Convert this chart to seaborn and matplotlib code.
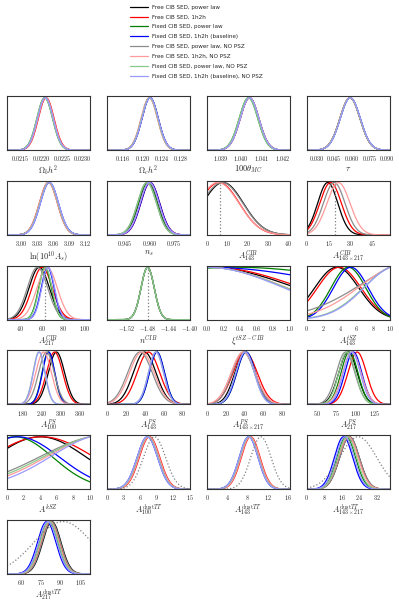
import numpy as np
import pandas as pd
import seaborn as sns
import matplotlib.pyplot as plt
from matplotlib.lines import Line2D

sns.set_style("white")
plt.rcParams['font.family'] = ['DejaVu Sans']
plt.rcParams['mathtext.fontset'] = 'cm'

# the 8 chains shown in every panel
series = ["Free CIB SED, power law", "Free CIB SED, 1h2h",
          "Fixed CIB SED, power law", "Fixed CIB SED, 1h2h (baseline)",
          "Free CIB SED, power law, NO PSZ", "Free CIB SED, 1h2h, NO PSZ",
          "Fixed CIB SED, power law, NO PSZ", "Fixed CIB SED, 1h2h (baseline), NO PSZ"]
colors = ["#000000", "#ff0000", "#008000", "#0000ff",
          "#8c8c8c", "#ff9a9a", "#88c888", "#9a9aff"]
nan = np.nan

# peak position / width of each marginal (series order above)
ombh2_mu = [0.02209, 0.02212, 0.02209, 0.02210, 0.02209, 0.02211, 0.02208, 0.02210]
ombh2_sd = [0.00019] * 8
omch2_mu = [0.1216, 0.1215, 0.1215, 0.1216, 0.1215, 0.1214, 0.1215, 0.1216]
omch2_sd = [0.0017] * 8
theta_mu = [1.0404, 1.0404, 1.04035, 1.0404, 1.0404, 1.0404, 1.04035, 1.0404]
theta_sd = [0.00045] * 8
tau_mu = [0.0584, 0.0584, 0.0585, 0.0587, 0.0584, 0.0584, 0.0585, 0.0587]
tau_sd = [0.0085] * 8
logA_mu = [3.051, 3.050, 3.051, 3.052, 3.051, 3.050, 3.051, 3.052]
logA_sd = [0.017] * 8
ns_mu = [0.9595, 0.9605, 0.9590, 0.9605, 0.9585, 0.9600, 0.9585, 0.9600]
ns_sd = [0.0058] * 8
cib143_mu = [8.0, 6.0, nan, nan, 7.5, 5.5, nan, nan]
cib143_sd = [10.0, 10.0, nan, nan, 10.2, 10.3, nan, nan]
cib143x217_mu = [14.5, 16.5, nan, nan, 19.0, 22.0, nan, nan]
cib143x217_sd = [7.0, 7.5, nan, nan, 7.5, 8.0, nan, nan]
cib217_mu = [57.6, 60.3, 63.0, 65.5, 56.0, 65.0, 63.5, 66.0]
cib217_sd = [9.5, 9.5, 6.0, 6.0, 9.5, 9.5, 6.0, 6.0]
ncib_mu = [-1.48, nan, -1.48, nan, -1.48, nan, -1.48, nan]
ncib_sd = [0.0125, nan, 0.0125, nan, 0.0125, nan, 0.0125, nan]
xi_mu = [0.0, 0.05, 0.35, 0.0, 0.0, 0.0, 0.0, 0.0]
xi_sd = [1.08, 1.10, 1.9, 1.8, 0.95, 0.97, 0.96, 0.93]
tsz_mu = [3.6, 3.9, 5.0, 5.3, 14.0, 12.0, 11.0, 11.0]
tsz_sd = [2.66, 2.63, 2.1, 2.1, 7.1, 5.5, 4.1, 4.0]
ps100_mu = [288, 282, 262, 263, 256, 247, 232, 233]
ps100_sd = [26, 26, 20, 20, 25, 25, 19, 19]
ps143_mu = [40, 44, 53, 53, 35, 37, 52, 52]
ps143_sd = [12, 12, 8, 8, 13, 13, 8, 8]
ps143x217_mu = [41, 41, 42, 42, 39, 39, 41, 41]
ps143x217_sd = [11, 13, 10, 10, 12, 13, 10, 10]
ps217_mu = [90, 102, 92, 97, 87, 95, 89, 95]
ps217_sd = [12, 12, 11, 11, 12, 12, 11, 11]
ksz_mu = [4.0, 4.2, 1.0, 1.3, 12.0, 12.0, 12.0, 12.0]
ksz_sd = [5.6, 6.36, 4.54, 5.07, 7.94, 7.1, 7.5, 6.6]
dust100_mu = [7.5, 7.7, 7.4, 7.3, 7.5, 7.6, 7.4, 7.3]
dust100_sd = [1.85] * 8
dust143_mu = [8.4, 8.6, 8.3, 8.2, 8.4, 8.5, 8.3, 8.2]
dust143_sd = [1.85] * 8
dust143x217_mu = [19.5, 19.3, 18.0, 16.8, 19.5, 19.0, 18.5, 17.5]
dust143x217_sd = [4.5, 4.5, 4.3, 4.2, 4.5, 4.5, 4.3, 4.2]
dust217_mu = [83.5, 82.5, 81.0, 79.6, 83.0, 82.0, 81.5, 80.5]
dust217_sd = [7.0] * 8

# gaussian priors (dotted) and marker lines
dust_prior_mu = [8.6, 10.6, 23.5, 92.0]
dust_prior_sd = [2.0, 2.0, 8.5, 22.0]
cib_markers = [6.4, 19.4, 63.4, -1.48]

labels = [r"$\Omega_b h^2$", r"$\Omega_c h^2$", r"$100\theta_{MC}$", r"$\tau$",
          r"${\rm ln}(10^{10} A_s)$", r"$n_s$", r"$A^{CIB}_{143}$", r"$A^{CIB}_{143\times217}$",
          r"$A^{CIB}_{217}$", r"$n^{CIB}$", r"$\xi^{tSZ-CIB}$", r"$A^{tSZ}_{143}$",
          r"$A^{PS}_{100}$", r"$A^{PS}_{143}$", r"$A^{PS}_{143\times217}$", r"$A^{PS}_{217}$",
          r"$A^{kSZ}$", r"$A^{{\rm dust}TT}_{100}$", r"$A^{{\rm dust}TT}_{143}$",
          r"$A^{{\rm dust}TT}_{143\times217}$", r"$A^{{\rm dust}TT}_{217}$"]
xlims = [(0.02117, 0.02318), (0.1126, 0.1299), (1.03834, 1.04235), (0.0218, 0.0923),
         (2.9724, 3.128), (0.934, 0.9848), (0, 41), (0, 57.7),
         (27.5, 105), (-1.557, -1.40), (0, 1), (0, 10),
         (130, 395), (0, 88), (0, 89), (36.6, 144.5),
         (0, 10), (0, 15), (0, 16.3), (0, 38), (49.3, 112.6)]
ticks = [["0.0215", "0.0220", "0.0225", "0.0230"], ["0.116", "0.120", "0.124", "0.128"],
         ["1.039", "1.040", "1.041", "1.042"], ["0.030", "0.045", "0.060", "0.075", "0.090"],
         ["3.00", "3.03", "3.06", "3.09", "3.12"], ["0.945", "0.960", "0.975"],
         ["0", "10", "20", "30", "40"], ["0", "15", "30", "45"],
         ["40", "60", "80", "100"], ["-1.52", "-1.48", "-1.44", "-1.40"],
         ["0.0", "0.2", "0.4", "0.6", "0.8", "1.0"], ["0", "2", "4", "6", "8", "10"],
         ["180", "240", "300", "360"], ["0", "20", "40", "60", "80"],
         ["0", "20", "40", "60", "80"], ["50", "75", "100", "125"],
         ["0", "2", "4", "6", "8", "10"], ["0", "3", "6", "9", "12", "15"],
         ["0", "4", "8", "12", "16"], ["0", "8", "16", "24", "32"],
         ["60", "75", "90", "105"]]
mus = [ombh2_mu, omch2_mu, theta_mu, tau_mu, logA_mu, ns_mu, cib143_mu, cib143x217_mu,
       cib217_mu, ncib_mu, xi_mu, tsz_mu, ps100_mu, ps143_mu, ps143x217_mu, ps217_mu,
       ksz_mu, dust100_mu, dust143_mu, dust143x217_mu, dust217_mu]
sds = [ombh2_sd, omch2_sd, theta_sd, tau_sd, logA_sd, ns_sd, cib143_sd, cib143x217_sd,
       cib217_sd, ncib_sd, xi_sd, tsz_sd, ps100_sd, ps143_sd, ps143x217_sd, ps217_sd,
       ksz_sd, dust100_sd, dust143_sd, dust143x217_sd, dust217_sd]


def shape(x, m, s):
    y = np.exp(-0.5 * ((x - m) / s) ** 2)
    return y / y.max()


fig, axes = plt.subplots(6, 4, figsize=(3.99, 6.01), dpi=100)
fig.subplots_adjust(left=0.0175, right=0.977, top=0.840, bottom=0.045, wspace=0.205, hspace=0.57)
axes = axes.ravel()
palette = dict(zip(series, colors))

for i, ax in enumerate(axes):
    if i >= len(labels):
        ax.set_visible(False)
        continue
    lo, hi = xlims[i]
    x = np.linspace(lo, hi, 300)
    rows = []
    for name, m, s in zip(series, mus[i], sds[i]):
        if np.isnan(m):
            continue
        rows.append(pd.DataFrame({"x": x, "p": shape(x, m, s), "chain": name}))
    df = pd.concat(rows)
    sns.lineplot(data=df, x="x", y="p", hue="chain", palette=palette, legend=False,
                 estimator=None, sort=False, linewidth=0.9, ax=ax)
    if 6 <= i <= 9:
        ax.axvline(cib_markers[i - 6], color="gray", ls=":", lw=0.9)
    if i >= 17:
        j = i - 17
        ax.plot(x, shape(x, dust_prior_mu[j], dust_prior_sd[j]), color="gray", ls=":", lw=0.9)
    ax.set_xlim(lo, hi)
    ax.set_ylim(0, 1.03)
    ax.set_yticks([])
    ax.set_ylabel("")
    ax.set_xticks([float(t) for t in ticks[i]])
    ax.set_xticklabels(["$%s$" % t for t in ticks[i]])
    ax.tick_params(axis="x", labelsize=4.4, length=1.5, width=0.5, pad=1.5, direction="out")
    ax.set_xlabel(labels[i], fontsize=6, labelpad=0.5)
    for sp in ax.spines.values():
        sp.set_color("#333333")
        sp.set_linewidth(0.8)

handles = [Line2D([], [], color=c, lw=0.9) for c in colors]
fig.legend(handles, series, loc="upper left", bbox_to_anchor=(0.325, 0.992), frameon=False,
           fontsize=4.1, handlelength=3.3, handletextpad=0.6, labelspacing=0.85,
           borderpad=0, borderaxespad=0)

fig.savefig("out.png", dpi=100)
